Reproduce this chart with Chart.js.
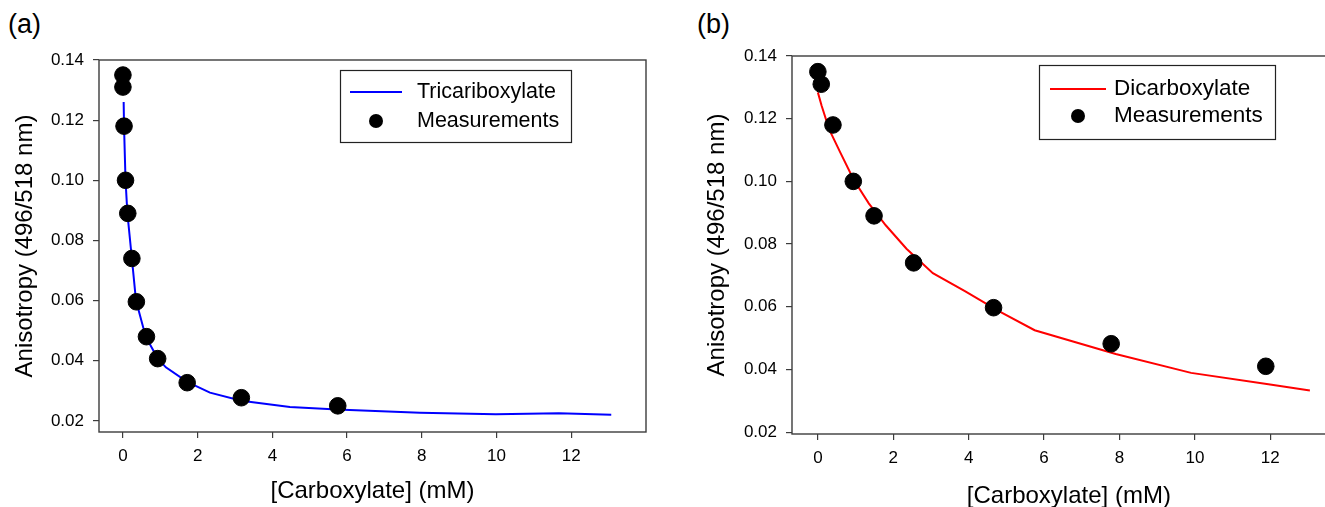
<!DOCTYPE html>
<html>
<head>
<meta charset="utf-8">
<script src="https://cdn.jsdelivr.net/npm/chart.js@4.4.1/dist/chart.umd.min.js"></script>
<style>
  html, body { margin: 0; padding: 0; width: 1325px; height: 507px; overflow: hidden; background: #fff; }
  .panel { position: absolute; top: 0; }
  #wrapA { left: 0; width: 660px; height: 507px; }
  #wrapB { left: 700px; width: 655px; height: 520px; }
  .tag { position: absolute; top: 11px; font-family: "Liberation Sans", Arial, sans-serif; font-size: 27px; color: #000; line-height: 1; }
</style>
</head>
<body>
<div class="tag" style="left:8px">(a)</div>
<div class="tag" style="left:697px">(b)</div>
<div class="panel" id="wrapA"><canvas id="chartA" width="660" height="507"></canvas></div>
<div class="panel" id="wrapB"><canvas id="chartB" width="655" height="520"></canvas></div>
<script>
// Tricarboxylate titration: measured anisotropy vs. concentration (mM)
const triConc  = [0, 0, 0.03, 0.07, 0.13, 0.24, 0.36, 0.63, 0.93, 1.72, 3.17, 5.75];
const triAniso = [0.135, 0.131, 0.118, 0.100, 0.089, 0.074, 0.0596, 0.048, 0.0407, 0.0327, 0.0277, 0.025];
// Tricarboxylate fitted curve
const triFitConc  = [0.02, 0.03, 0.07, 0.12, 0.24, 0.35, 0.61, 0.93, 1.15, 1.72, 2.33, 3.17, 4.47, 5.73, 7.95, 9.98, 11.67, 13.07];
const triFitAniso = [0.126, 0.118, 0.100, 0.089, 0.074, 0.060, 0.048, 0.0408, 0.0378, 0.033, 0.0294, 0.0267, 0.0246, 0.0238, 0.0227, 0.0222, 0.0225, 0.0220];

// Dicarboxylate titration: measured anisotropy vs. concentration (mM)
const diConc  = [0, 0.09, 0.40, 0.94, 1.49, 2.54, 4.66, 7.78, 11.88];
const diAniso = [0.135, 0.131, 0.118, 0.100, 0.089, 0.074, 0.0597, 0.0482, 0.041];
// Dicarboxylate fitted curve
const diFitConc  = [0, 0.1, 0.3, 0.6, 0.95, 1.35, 1.8, 2.35, 3.05, 3.9, 4.8, 5.75, 7.9, 9.9, 11.95, 13.05];
const diFitAniso = [0.1284, 0.1241, 0.1166, 0.1091, 0.1005, 0.093, 0.086, 0.0785, 0.0707, 0.065, 0.0586, 0.0525, 0.0449, 0.0389, 0.0353, 0.0333];

// Axis ticks and labels
const xTickValues = [0, 2, 4, 6, 8, 10, 12];
const yTickValues = [0.02, 0.04, 0.06, 0.08, 0.10, 0.12, 0.14];
const xAxisTitle = '[Carboxylate] (mM)';
const yAxisTitle = 'Anisotropy (496/518 nm)';
const pointLabel = 'Measurements';

const FONT = '"Liberation Sans", Arial, Helvetica, sans-serif';
const AXIS_COLOR = '#3c3c3c';

const toXY = (xs, ys) => xs.map((x, i) => ({ x: x, y: ys[i] }));

// Closed frame around the plot area
const framePlugin = {
  id: 'frame',
  beforeDatasetsDraw(chart) {
    const { ctx, chartArea: a } = chart;
    ctx.save();
    ctx.strokeStyle = AXIS_COLOR;
    ctx.lineWidth = 1.4;
    ctx.strokeRect(a.left, a.top, a.right - a.left, a.bottom - a.top);
    ctx.restore();
  }
};

// Boxed legend inside the plot area
const boxLegendPlugin = {
  id: 'boxLegend',
  afterDatasetsDraw(chart, args, o) {
    const { ctx, chartArea: a } = chart;
    const x = a.left + o.left, y = a.top + o.top;
    ctx.save();
    ctx.fillStyle = '#fff';
    ctx.fillRect(x, y, o.width, o.height);
    ctx.strokeStyle = '#222';
    ctx.lineWidth = 1.2;
    ctx.strokeRect(x + 0.5, y + 0.5, o.width, o.height);
    ctx.font = o.fontSize + 'px ' + FONT;
    ctx.textBaseline = 'middle';
    ctx.textAlign = 'left';
    chart.data.datasets.forEach((ds, i) => {
      const ry = y + o.rowTop + i * o.rowGap;
      const sx = x + o.sampleLeft;
      if (ds.showLine) {
        ctx.strokeStyle = ds.borderColor;
        ctx.lineWidth = ds.borderWidth;
        ctx.beginPath();
        ctx.moveTo(sx, ry);
        ctx.lineTo(sx + o.sampleWidth, ry);
        ctx.stroke();
      } else {
        ctx.fillStyle = ds.backgroundColor;
        ctx.beginPath();
        ctx.arc(sx + o.sampleWidth / 2, ry, o.markerRadius, 0, Math.PI * 2);
        ctx.fill();
      }
      ctx.fillStyle = '#000';
      ctx.fillText(ds.label, x + o.textLeft, ry);
    });
    ctx.restore();
  }
};

function makePanel(canvasId, cfg) {
  const tickFont = { family: FONT, size: 17 };
  const titleFont = { family: FONT, size: 24 };
  return new Chart(document.getElementById(canvasId), {
    type: 'scatter',
    data: {
      datasets: [
        {
          label: cfg.fitLabel,
          data: toXY(cfg.fitX, cfg.fitY),
          showLine: true,
          borderColor: cfg.color,
          backgroundColor: cfg.color,
          borderWidth: 2,
          pointRadius: 0,
          tension: 0,
          order: 1
        },
        {
          label: pointLabel,
          data: toXY(cfg.ptsX, cfg.ptsY),
          showLine: false,
          backgroundColor: '#000',
          borderColor: '#000',
          pointRadius: 8.3,
          pointHoverRadius: 8.3,
          order: 0
        }
      ]
    },
    options: {
      responsive: false,
      animation: false,
      events: [],
      layout: { padding: cfg.padding },
      plugins: {
        legend: { display: false },
        tooltip: { enabled: false },
        boxLegend: cfg.legend
      },
      scales: {
        x: {
          type: 'linear',
          min: cfg.xMin, max: cfg.xMax,
          afterBuildTicks: s => { s.ticks = xTickValues.map(v => ({ value: v })); },
          afterFit: s => { s.height = cfg.xAxisHeight; },
          border: { display: false },
          grid: { drawOnChartArea: false, drawTicks: true, tickLength: 6, color: AXIS_COLOR, lineWidth: 1.2 },
          ticks: { font: tickFont, color: '#000', padding: 8, maxRotation: 0, callback: v => String(v) },
          title: { display: true, text: xAxisTitle, font: titleFont, color: '#000', padding: { top: 0, bottom: cfg.xTitlePad } }
        },
        y: {
          type: 'linear',
          min: cfg.yMin, max: cfg.yMax,
          afterBuildTicks: s => { s.ticks = yTickValues.map(v => ({ value: v })); },
          afterFit: s => { s.width = cfg.yAxisWidth; },
          border: { display: false },
          grid: { drawOnChartArea: false, drawTicks: true, tickLength: 6, color: AXIS_COLOR, lineWidth: 1.2 },
          ticks: { font: tickFont, color: '#000', padding: 9, callback: v => Number(v).toFixed(2) },
          title: { display: true, text: yAxisTitle, font: titleFont, color: '#000', padding: { top: cfg.yTitlePad, bottom: 0 } }
        }
      }
    },
    plugins: [framePlugin, boxLegendPlugin]
  });
}

makePanel('chartA', {
  fitLabel: 'Tricariboxylate', color: '#0000ff',
  fitX: triFitConc, fitY: triFitAniso, ptsX: triConc, ptsY: triAniso,
  xMin: -0.64, xMax: 14, yMin: 0.0163, yMax: 0.14,
  padding: { left: 0, right: 14, top: 60, bottom: 0 },
  yAxisWidth: 99, xAxisHeight: 75, xTitlePad: 1, yTitlePad: 11,
  legend: { left: 241, top: 10, width: 231, height: 72, rowTop: 22, rowGap: 29,
            sampleLeft: 10, sampleWidth: 52, markerRadius: 7, textLeft: 77, fontSize: 21.5 }
});

makePanel('chartB', {
  fitLabel: 'Dicarboxylate', color: '#ff0000',
  fitX: diFitConc, fitY: diFitAniso, ptsX: diConc, ptsY: diAniso,
  xMin: -0.686, xMax: 14, yMin: 0.0194, yMax: 0.14,
  padding: { left: 0, right: 6, top: 56, bottom: 0 },
  yAxisWidth: 92, xAxisHeight: 86, xTitlePad: 9, yTitlePad: 3,
  legend: { left: 247, top: 9, width: 236, height: 74, rowTop: 24, rowGap: 27,
            sampleLeft: 11, sampleWidth: 56, markerRadius: 7, textLeft: 75, fontSize: 22.5 }
});
</script>
</body>
</html>
